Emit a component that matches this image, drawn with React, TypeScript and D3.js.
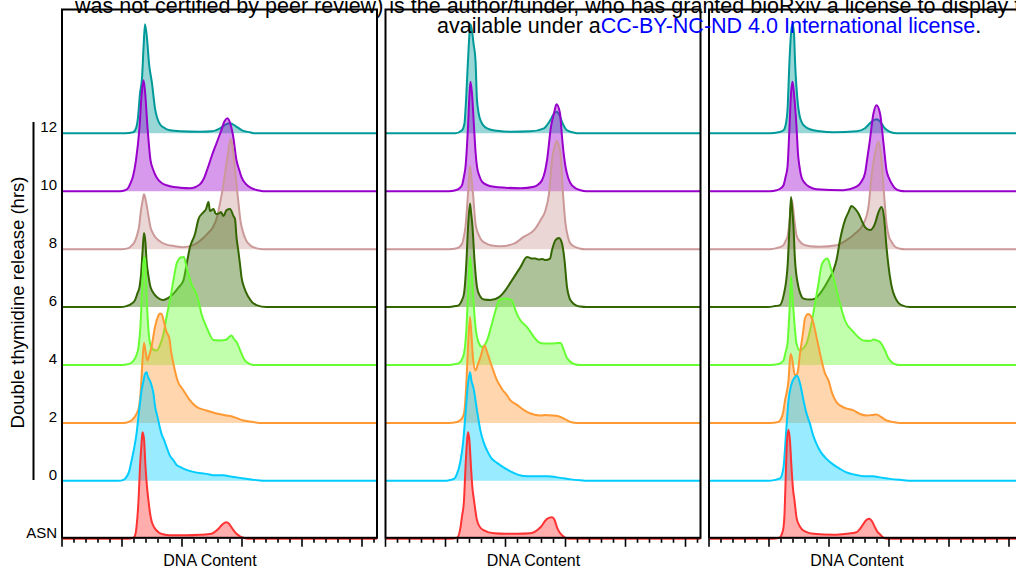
import React from 'react';
import * as d3 from 'd3';

type Pt = [number, number];

// Row labels, bottom to top (hours after double thymidine release)
const rowLabels = ['ASN', '0', '2', '4', '6', '8', '10', '12'];
const strokeColors = ['#ff3333', '#00ccff', '#ff9933', '#66ff33', '#336600', '#cc9999', '#9900cc', '#009999'];
const panelTitles = ['DNA Content', 'DNA Content', 'DNA Content'];

// Histograms: [DNA channel, cell count]
// Panel 1
const p1Asn: Pt[] = [[132,0],[143,2],[147,10],[149,24],[153,76],[156,144],[159,190],[161,213],[164,200],[167,144],[170,104],[173,76],[176,52],[179,36],[185,22],[193,13],[202,9],[216,7],[249,7],[276,8],[299,10],[306,14],[313,20],[320,28],[325,32],[329,33],[334,30],[339,23],[344,16],[349,10],[356,5],[363,2],[372,0]];
const p1H0: Pt[] = [[112,0],[123,2],[129,8],[134,18],[139,40],[144,64],[149,94],[153,130],[156,156],[159,180],[163,200],[166,214],[169,217],[172,208],[176,200],[180,188],[183,174],[186,150],[191,128],[195,110],[199,94],[204,82],[209,68],[216,50],[223,41],[229,32],[236,28],[249,22],[263,18],[289,14],[306,11],[323,11],[336,9],[356,6],[386,2],[409,0]];
const p1H2: Pt[] = [[124,0],[136,3],[142,8],[149,18],[154,32],[158,72],[161,126],[164,160],[167,144],[171,125],[174,134],[179,152],[186,192],[193,215],[196,219],[199,218],[204,202],[208,185],[215,168],[218,144],[223,118],[231,85],[243,65],[256,45],[269,32],[289,25],[309,19],[329,15],[343,12],[363,5],[376,3],[396,0]];
const p1H4: Pt[] = [[120,0],[133,2],[138,4],[144,10],[149,20],[153,36],[157,80],[160,150],[163,206],[165,216],[167,200],[170,120],[173,70],[176,44],[179,36],[184,30],[189,29],[196,40],[203,62],[209,96],[216,130],[223,170],[229,202],[234,212],[237,215],[244,216],[249,196],[254,178],[259,162],[269,142],[274,124],[279,102],[289,76],[296,60],[303,50],[316,49],[329,51],[334,56],[339,59],[344,52],[349,46],[359,23],[364,12],[369,6],[383,0]];
const p1H6: Pt[] = [[116,0],[129,2],[138,6],[146,14],[151,28],[155,40],[158,64],[161,110],[164,148],[167,128],[169,94],[173,62],[177,40],[186,24],[196,16],[203,14],[212,18],[223,27],[232,38],[243,54],[250,90],[256,120],[266,146],[273,176],[283,190],[288,196],[293,210],[296,192],[303,196],[308,186],[315,188],[318,190],[323,182],[329,194],[336,196],[343,182],[346,176],[349,140],[353,110],[356,86],[359,60],[364,40],[373,20],[380,10],[389,4],[409,0]];
const p1H8: Pt[] = [[120,0],[133,2],[140,8],[146,16],[150,28],[154,44],[158,78],[161,96],[164,110],[167,100],[171,78],[177,44],[184,28],[193,18],[206,10],[226,6],[242,4],[262,8],[282,22],[292,32],[302,44],[310,64],[316,92],[322,124],[327,158],[332,192],[337,220],[341,206],[346,158],[353,92],[357,56],[361,38],[368,18],[376,8],[388,2],[402,0]];
const p1H10: Pt[] = [[116,0],[126,2],[132,6],[137,16],[142,30],[148,62],[155,128],[159,190],[163,222],[166,200],[171,128],[177,62],[182,44],[189,28],[200,16],[216,10],[236,7],[256,6],[276,14],[284,26],[292,48],[300,72],[309,96],[318,120],[325,140],[331,146],[337,134],[342,112],[349,62],[354,44],[359,28],[368,14],[379,6],[392,2],[402,0]];
const p1H12: Pt[] = [[126,0],[142,2],[148,10],[152,32],[156,80],[160,110],[163,170],[166,218],[170,190],[174,140],[180,100],[186,50],[190,32],[196,18],[206,10],[216,6],[236,4],[276,3],[300,4],[316,10],[328,18],[336,20],[348,14],[360,6],[376,2],[386,0]];

// Panel 2
const p2Asn: Pt[] = [[130,0],[143,2],[150,23],[153,45],[157,77],[160,143],[163,195],[165,213],[168,195],[171,143],[174,100],[177,77],[183,37],[190,22],[197,17],[217,11],[240,10],[263,10],[290,11],[300,15],[310,23],[323,40],[333,43],[338,38],[343,23],[348,13],[353,7],[360,2],[367,0]];
const p2H0: Pt[] = [[118,0],[130,2],[137,4],[143,14],[150,40],[155,75],[160,134],[165,194],[169,217],[172,200],[177,181],[180,161],[185,128],[190,100],[196,78],[203,61],[212,45],[223,36],[236,27],[250,19],[266,12],[283,9],[323,9],[350,6],[370,3],[390,1],[404,0]];
const p2H2: Pt[] = [[126,0],[143,2],[152,8],[157,19],[162,85],[165,152],[169,212],[172,175],[175,130],[180,105],[185,118],[190,132],[198,155],[203,142],[213,112],[223,85],[233,68],[243,55],[250,45],[263,36],[283,22],[290,19],[310,15],[320,16],[333,15],[350,12],[360,7],[370,2],[384,0]];
const p2H4: Pt[] = [[126,0],[140,2],[147,4],[152,10],[157,23],[162,76],[165,143],[169,216],[172,190],[175,143],[180,76],[187,43],[193,36],[203,49],[213,83],[220,109],[227,129],[232,132],[238,133],[246,132],[253,129],[260,109],[270,89],[283,76],[297,56],[306,46],[317,43],[337,43],[344,44],[350,44],[357,29],[362,16],[367,9],[380,1],[390,0]];
const p2H6: Pt[] = [[126,0],[140,2],[147,4],[152,12],[157,27],[162,94],[165,160],[169,207],[171,190],[174,160],[178,94],[183,40],[188,24],[197,15],[210,14],[227,20],[240,34],[248,46],[257,60],[270,80],[283,100],[288,99],[293,97],[300,97],[307,95],[314,96],[320,94],[329,97],[333,114],[340,134],[347,138],[353,127],[358,94],[363,40],[368,18],[373,10],[382,3],[390,1],[402,0]];
const p2H8: Pt[] = [[126,0],[143,2],[153,11],[157,26],[160,45],[165,111],[169,166],[171,150],[175,111],[180,51],[185,32],[190,21],[200,12],[210,8],[230,6],[257,11],[277,25],[297,38],[310,58],[320,78],[327,111],[333,178],[338,205],[343,217],[347,205],[350,191],[355,111],[360,51],[365,24],[370,11],[380,4],[390,1],[400,0]];
const p2H10: Pt[] = [[126,0],[140,2],[148,6],[153,12],[157,30],[160,49],[165,129],[168,195],[170,219],[173,195],[177,129],[180,80],[183,49],[188,30],[193,19],[204,12],[217,9],[240,7],[270,6],[297,9],[306,14],[313,22],[319,40],[323,62],[331,129],[337,156],[342,174],[349,156],[353,109],[357,70],[360,49],[365,28],[370,16],[380,6],[390,2],[402,0]];
const p2H12: Pt[] = [[140,0],[153,6],[158,20],[160,47],[165,146],[168,200],[170,218],[173,205],[176,180],[180,146],[183,66],[190,26],[203,10],[223,5],[250,3],[290,4],[317,10],[330,27],[336,38],[342,43],[348,36],[353,23],[363,6],[374,2],[383,0]];

// Panel 3
const p3Asn: Pt[] = [[126,0],[141,2],[145,8],[149,23],[151,50],[152,77],[154,143],[156,195],[159,218],[162,195],[165,143],[168,100],[171,77],[175,43],[180,28],[185,20],[194,14],[209,10],[249,8],[275,10],[295,13],[302,20],[309,30],[315,38],[321,40],[326,35],[332,23],[337,14],[342,9],[348,3],[355,0]];
const p3H0: Pt[] = [[118,0],[132,2],[142,5],[149,27],[154,94],[159,161],[164,190],[170,205],[176,210],[182,195],[189,161],[195,135],[202,114],[208,92],[215,74],[224,57],[235,44],[248,33],[262,24],[275,17],[289,13],[315,9],[328,9],[342,7],[362,4],[382,2],[409,0]];
const p3H2: Pt[] = [[122,0],[138,2],[142,5],[148,20],[152,45],[159,85],[163,138],[166,130],[172,95],[177,100],[182,139],[188,180],[192,209],[198,218],[202,216],[209,199],[215,172],[222,139],[232,99],[239,85],[246,60],[256,40],[272,30],[289,25],[302,18],[315,15],[326,16],[335,17],[344,12],[355,5],[368,2],[382,0]];
const p3H4: Pt[] = [[122,0],[139,2],[149,9],[153,25],[157,43],[161,109],[164,177],[166,150],[169,109],[172,70],[175,43],[182,29],[188,33],[195,43],[205,83],[212,123],[219,163],[225,199],[231,210],[237,213],[243,196],[252,163],[262,123],[272,89],[289,66],[309,49],[322,48],[329,51],[336,49],[342,46],[352,29],[358,15],[365,6],[374,1],[382,0]];
const p3H6: Pt[] = [[118,0],[132,2],[142,4],[150,27],[154,50],[157,80],[161,160],[164,220],[166,200],[169,160],[172,94],[179,40],[183,26],[189,17],[202,15],[212,17],[222,27],[239,54],[249,74],[255,94],[262,134],[272,174],[279,190],[285,202],[292,197],[299,187],[305,174],[312,160],[322,154],[332,167],[339,190],[345,200],[350,180],[355,120],[362,60],[367,34],[372,20],[385,4],[402,0]];
const p3H8: Pt[] = [[122,0],[135,2],[144,5],[149,8],[153,16],[157,25],[160,45],[162,65],[165,99],[168,85],[170,65],[175,28],[182,15],[189,9],[202,6],[222,5],[255,8],[275,18],[292,31],[309,51],[319,85],[325,145],[332,191],[339,215],[345,178],[350,111],[355,51],[360,25],[365,15],[372,5],[382,1],[392,0]];
const p3H10: Pt[] = [[122,0],[135,2],[142,5],[149,12],[153,28],[157,49],[161,129],[164,195],[167,219],[170,195],[175,129],[178,75],[181,49],[185,28],[192,16],[202,8],[215,4],[269,2],[295,9],[304,18],[312,36],[316,62],[321,96],[329,156],[335,172],[342,156],[349,96],[355,42],[360,26],[365,16],[372,6],[382,1],[392,0]];
const p3H12: Pt[] = [[122,0],[139,2],[149,6],[154,20],[157,46],[161,146],[164,200],[167,218],[170,200],[172,146],[177,66],[181,36],[185,23],[194,12],[202,8],[222,4],[249,2],[295,4],[312,10],[319,17],[325,23],[335,28],[345,20],[350,12],[355,7],[364,2],[375,0]];

const panelSeries: Pt[][][] = [
  [p1Asn, p1H0, p1H2, p1H4, p1H6, p1H8, p1H10, p1H12],
  [p2Asn, p2H0, p2H2, p2H4, p2H6, p2H8, p2H10, p2H12],
  [p3Asn, p3H0, p3H2, p3H4, p3H6, p3H8, p3H10, p3H12],
];

const CHANNEL_MAX = 630;
const FONT = '"Liberation Sans", Arial, sans-serif';

export default function App() {
  const W = 1016;
  const H = 573;
  const panelLefts = [62, 385.5, 709];
  const panelW = 315;
  const boxTop = 9.5;
  const boxBottom = 537.8;

  const x = d3.scaleLinear().domain([0, CHANNEL_MAX]).range([0, panelW]);
  const rowY = d3.scaleLinear().domain([0, 7]).range([538.8, 133.3]);
  const amp = d3.scaleLinear().domain([0, 200]).range([0, 100]);
  const ticks = d3.range(0, CHANNEL_MAX + 1, 24);

  // draw the top row first so lower rows overlay it
  const order = d3.range(7, -1, -1);

  return (
    <svg width={W} height={H} style={{ position: 'fixed', left: 0, top: 0, background: '#fff' }} fontFamily={FONT}>
      <rect x={0} y={0} width={W} height={H} fill="#fff" />

      {panelSeries.map((series, p) => {
        const left = panelLefts[p];
        return (
          <g key={p} transform={`translate(${left},0)`}>
            {order.map((i) => {
              const base = rowY(i);
              const pts: Pt[] = [[0, 0], ...series[i], [CHANNEL_MAX, 0]];
              const area = d3
                .area<Pt>()
                .x((d) => x(d[0]))
                .y0(base)
                .y1((d) => base - amp(d[1]))
                .curve(d3.curveMonotoneX);
              const line = d3
                .line<Pt>()
                .x((d) => x(d[0]))
                .y((d) => base - amp(d[1]))
                .curve(d3.curveMonotoneX);
              return (
                <g key={i}>
                  <path d={area(pts) || ''} fill={strokeColors[i]} fillOpacity={0.4} stroke="none" />
                  <path d={line(pts) || ''} fill="none" stroke={strokeColors[i]} strokeWidth={2} strokeLinejoin="round" />
                </g>
              );
            })}
            <rect x={0} y={boxTop} width={panelW} height={boxBottom - boxTop} fill="none" stroke="#000" strokeWidth={2} />
            {ticks.map((t) => (
              <line
                key={t}
                x1={x(t)}
                x2={x(t)}
                y1={boxBottom + 1}
                y2={boxBottom + (t % 120 === 0 ? 9 : 5)}
                stroke="#000"
                strokeWidth={1.6}
              />
            ))}
            <text x={148} y={566} textAnchor="middle" fontSize={16} fill="#000">
              {panelTitles[p]}
            </text>
          </g>
        );
      })}

      {/* y axis labels */}
      {rowLabels.map((lab, i) => (
        <text key={lab} x={57} y={rowY(i) - 1.2} textAnchor="end" fontSize={15} fill="#000">
          {lab}
        </text>
      ))}
      <line x1={33.5} x2={33.5} y1={122} y2={480} stroke="#000" strokeWidth={2} />
      <text transform={`translate(23.5,302.5) rotate(-90)`} textAnchor="middle" fontSize={18.5} fill="#000">
        Double thymidine release (hrs)
      </text>

      {/* preprint notice */}
      <text x={75} y={13} fontSize={21.5} fill="#000">
        was not certified by peer review) is the author/funder, who has granted bioRxiv a license to display the preprint in perpetuity. It is made
      </text>
      <text x={437} y={33} fontSize={21.5} fill="#000">
        available under a<tspan fill="#0000ff">CC-BY-NC-ND 4.0 International license</tspan>.
      </text>
    </svg>
  );
}
